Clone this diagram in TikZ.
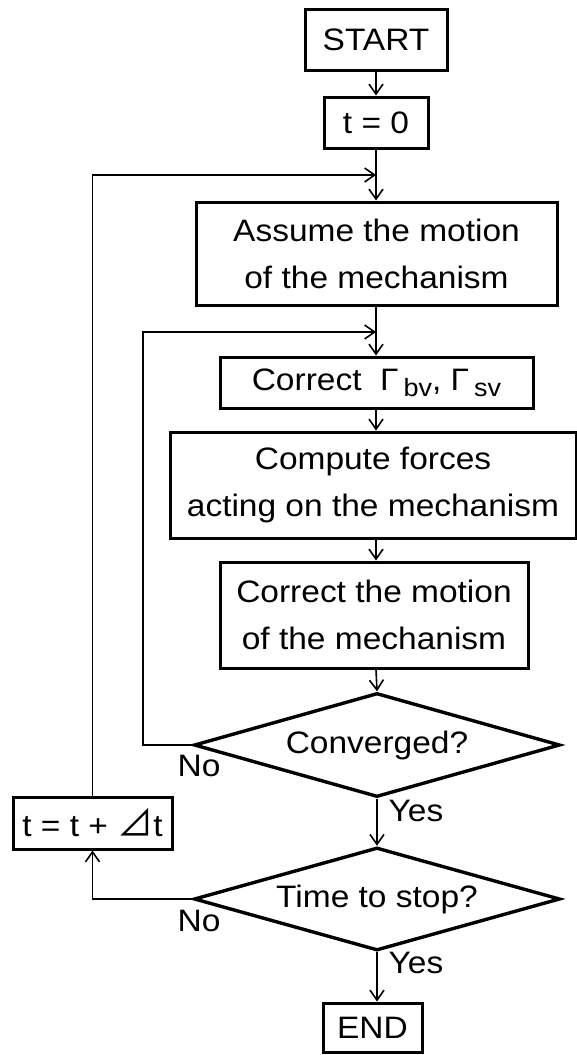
\documentclass[tikz,border=0pt]{standalone}
\usepackage{fontspec}
\setmainfont[FakeStretch=1.08]{Liberation Sans}
\newfontfamily\cjkfont{Noto Sans CJK JP}
\usetikzlibrary{shapes.geometric,arrows.meta}
\newcommand\mainsize{\fontsize{31}{47}\selectfont}
\newcommand\lowsub[1]{\raisebox{-6pt}{\fontsize{25}{25}\selectfont #1}}
\tikzset{
  box/.style={draw, line width=3pt, inner sep=0pt, align=center, font=\mainsize},
  dec/.style={draw, diamond, line width=3.4pt, inner sep=0pt, aspect=3.5, font=\mainsize},
  flow/.style={line width=1.6pt, -{Straight Barb[length=10pt,width=14pt,line width=1.6pt]}},
  lab/.style={font=\mainsize, inner sep=0pt}
}
\begin{document}
\begin{tikzpicture}[x=1pt,y=1pt]
\useasboundingbox (0,0) rectangle (577,-1055);
% nodes
\node[box, minimum width=142, minimum height=61] (start) at (376,-40) {START};
\node[box, minimum width=104, minimum height=51] (t0) at (376,-122.5) {t = 0};
\coordinate (j1) at (376,-175);
\node[box, minimum width=361, minimum height=103] (assume) at (376.5,-253.5) {Assume the motion\\of the mechanism};
\coordinate (j2) at (376,-332);
\node[box, minimum width=313, minimum height=51] (gamma) at (376.5,-382.5) {Correct\ \ Γ\hspace{5pt}\lowsub{bv}, Γ\hspace{5pt}\lowsub{sv}};
\node[box, minimum width=406, minimum height=106] (compute) at (373,-485) {Compute forces\\acting on the mechanism};
\node[box, minimum width=308, minimum height=106] (motion) at (374,-615) {Correct the motion\\of the mechanism};
\node[dec, minimum width=366, minimum height=104] (conv) at (377,-745) {\raisebox{3pt}{Converged?}};
\node[dec, minimum width=366, minimum height=103] (time) at (377,-899) {\raisebox{3pt}{Time to stop?}};
\node[box, minimum width=99, minimum height=49] (end) at (372.5,-1027.5) {END};
\node[box, minimum width=159, minimum height=52] (tdt) at (92.5,-823) {t = t + {\cjkfont\fontsize{36}{36}\selectfont ⊿}t};
\coordinate (innerx) at (143,0);
% labels
\node[lab] (no1) at (199,-766) {No};
\node[lab] (no2) at (199,-921) {No};
\node[lab] (yes1) at (416,-811) {Yes};
\node[lab] (yes2) at (416,-963) {Yes};
% connectors
\draw[flow] (start.south -| t0.north) -- (t0.north);
\draw[flow] (t0.south) -- (t0.south |- assume.north);
\draw[flow] (assume.south -| j2) -- (j2 |- gamma.north);
\draw[flow] (j2 |- gamma.south) -- (j2 |- compute.north);
\draw[flow] (j2 |- compute.south) -- (j2 |- motion.north);
\draw[flow] (j2 |- motion.south) -- (conv.north);
\draw[flow] (conv.south) -- (time.north);
\draw[flow] (time.south) -- (time.south |- end.north);
\draw[flow] (conv.west) -- (conv.west -| innerx) |- (j2);
\draw[flow] (time.west) -| (tdt.south);
\draw[flow] (tdt.north) |- (j1);
\end{tikzpicture}
\end{document}
